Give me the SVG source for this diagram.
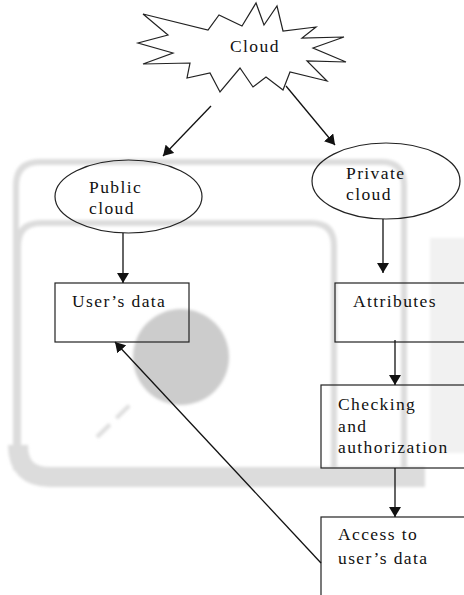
<svg xmlns="http://www.w3.org/2000/svg" width="464" height="595" viewBox="0 0 464 595">
<style>
.t{font-family:"Liberation Serif","Times New Roman",serif;font-size:17.5px;letter-spacing:1.4px;fill:#111}
.shape{fill:none;stroke:#222;stroke-width:1.2}
.conn{fill:none;stroke:#111;stroke-width:1.3}
.wm{fill:none;stroke:#dcdcdc}
</style>
<defs>
<marker id="ah" markerUnits="userSpaceOnUse" markerWidth="11" markerHeight="12" refX="10" refY="6" orient="auto">
<path d="M0,0 L10,6 L0,12 z" fill="#111"/>
</marker>
<filter id="bl" x="-10%" y="-10%" width="120%" height="120%"><feGaussianBlur stdDeviation="1.5"/></filter>
</defs>
<rect width="464" height="595" fill="#fff"/>
<g id="watermark" filter="url(#bl)">
<rect x="430" y="238" width="40" height="215" fill="#f1f1f1"/>
<path class="wm" stroke-width="6" d="M16 470 V186 Q16 162 40 162 H382 Q404 162 404 186 V470"/>
<path class="wm" stroke-width="6" stroke="#d4d4d4" d="M18 470 V246 Q18 223 41 223 H311 Q334 223 334 246 V470"/>
<path class="wm" stroke-width="20" stroke="#dcdcdc" d="M18 445 Q18 477 50 477 H425"/>
<circle cx="181" cy="357" r="48" fill="#cccccc"/>
<path d="M97 437 L133 402" stroke="#dddddd" stroke-width="4" stroke-dasharray="18 9"/>
</g>
<g id="cloud">
<polygon class="shape" fill="#fff" points="143,14 208,30 219,15 242,26 256,3 264,25 277,6 283,31 316,27 302,38 344,37 313,48 346,62 307,61 327,81 290,72 283,90 266,77 253,87 240,68 220,92 210,73 187,78 190,63 143,64 173,53 138,43 168,35"/>
<text class="t" x="230" y="52">Cloud</text>
</g>
<g id="public">
<ellipse class="shape" cx="128.5" cy="196.5" rx="73.5" ry="36.5"/>
<text class="t" x="89" y="193">Public</text>
<text class="t" x="89" y="214">cloud</text>
</g>
<g id="private">
<ellipse class="shape" cx="386" cy="181" rx="74" ry="38"/>
<text class="t" x="346" y="179">Private</text>
<text class="t" x="346" y="200">cloud</text>
</g>
<g id="usersdata">
<rect class="shape" x="55" y="283" width="134" height="59"/>
<text class="t" x="72" y="307">User’s data</text>
</g>
<g id="attributes">
<rect class="shape" x="335" y="283" width="140" height="59"/>
<text class="t" x="353" y="307">Attributes</text>
</g>
<g id="checking">
<rect class="shape" x="321" y="385" width="150" height="83"/>
<text class="t" x="338" y="410">Checking</text>
<text class="t" x="338" y="432">and</text>
<text class="t" x="338" y="453">authorization</text>
</g>
<g id="access">
<rect class="shape" x="321" y="517" width="150" height="90"/>
<text class="t" x="338" y="540">Access to</text>
<text class="t" x="338" y="564">user’s data</text>
</g>
<g id="connectors">
<line class="conn" x1="211" y1="106" x2="163" y2="156" marker-end="url(#ah)"/>
<line class="conn" x1="286" y1="86" x2="335" y2="145" marker-end="url(#ah)"/>
<line class="conn" x1="123" y1="233" x2="123" y2="283" marker-end="url(#ah)"/>
<line class="conn" x1="383" y1="219" x2="383" y2="273" marker-end="url(#ah)"/>
<line class="conn" x1="395" y1="340" x2="395" y2="385" marker-end="url(#ah)"/>
<line class="conn" x1="395" y1="468" x2="395" y2="517" marker-end="url(#ah)"/>
<line class="conn" x1="321" y1="563" x2="115" y2="342" marker-end="url(#ah)"/>
</g>
</svg>
